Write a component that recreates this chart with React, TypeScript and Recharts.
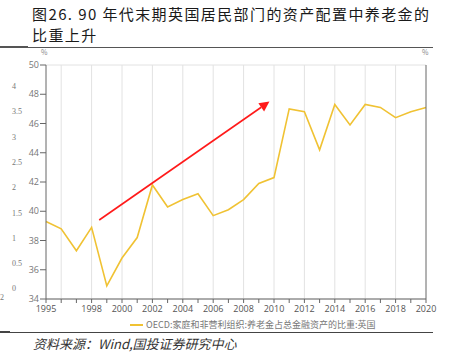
import React from "react";
import {
  LineChart,
  Line,
  XAxis,
  YAxis,
  CartesianGrid,
  ReferenceLine,
} from "recharts";

const years = [
  1995, 1996, 1997, 1998, 1999, 2000, 2001, 2002, 2003, 2004, 2005, 2006, 2007,
  2008, 2009, 2010, 2011, 2012, 2013, 2014, 2015, 2016, 2017, 2018, 2019, 2020,
];
const pensionShare = [
  39.3, 38.8, 37.3, 38.9, 34.9, 36.8, 38.2, 41.8, 40.3, 40.8, 41.2, 39.7, 40.1,
  40.8, 41.9, 42.3, 47.0, 46.8, 44.2, 47.3, 45.9, 47.3, 47.1, 46.4, 46.8, 47.1,
];
const labeledYears = [1995, 1998, 2000, 2002, 2004, 2006, 2008, 2010, 2012, 2014, 2016, 2018, 2020];
const gridYears = [1996, 1998, 2000, 2002, 2004, 2006, 2008, 2010, 2012, 2014, 2016, 2018];
const yTicks = [34, 36, 38, 40, 42, 44, 46, 48, 50];
const strayTicks = ["4", "3.5", "3", "2.5", "2", "1.5", "1", "0.5", "0"];
const arrowFrom = { x: 1998.5, y: 39.4 };
const arrowTo = { x: 2009.7, y: 47.5 };

const seriesName = "OECD:家庭和非营利组织:养老金占总金融资产的比重:英国";
const YELLOW = "#f0c233";

const data = years.map((y, i) => ({ year: y, v: pensionShare[i] }));

const tickStyle = { fontSize: 9, fill: "#777", fontFamily: "'Open Sans', sans-serif" };

function Arrow(props: any) {
  const { x1, y1, x2, y2 } = props;
  const ang = Math.atan2(y2 - y1, x2 - x1);
  const len = 10;
  const w = 5;
  const bx = x2 - len * Math.cos(ang);
  const by = y2 - len * Math.sin(ang);
  const px = -Math.sin(ang) * w;
  const py = Math.cos(ang) * w;
  return (
    <g>
      <line x1={x1} y1={y1} x2={bx} y2={by} stroke="#ff1a1a" strokeWidth={1.6} />
      <polygon
        points={`${x2},${y2} ${bx + px},${by + py} ${bx - px},${by - py}`}
        fill="#ff1a1a"
      />
    </g>
  );
}

export default function App() {
  return (
    <div
      style={{
        position: "absolute",
        left: 0,
        top: 0,
        width: 451,
        height: 357,
        background: "#fff",
        fontFamily: "'Noto Sans CJK SC', sans-serif",
        overflow: "hidden",
      }}
    >
      <div
        style={{
          position: "absolute",
          left: 32,
          top: 4,
          fontSize: 15,
          lineHeight: "20.5px",
          color: "#1a1a1a",
          fontWeight: 400,
          letterSpacing: 1.4,
        }}
      >
        图26. 90 年代末期英国居民部门的资产配置中养老金的
        <br />
        比重上升
      </div>
      <div style={{ position: "absolute", left: 0, top: 46, width: 28, height: 2, background: "#555" }} />
      <div style={{ position: "absolute", left: 28, top: 47, width: 405, height: 1, background: "#555" }} />

      <div style={{ position: "absolute", left: 41, top: 48, fontSize: 7, lineHeight: "8px", color: "#888" }}>%</div>
      <div style={{ position: "absolute", left: 422, top: 48, fontSize: 7, lineHeight: "8px", color: "#888" }}>%</div>

      {strayTicks.map((t, i) => (
        <div
          key={t}
          style={{
            position: "absolute",
            left: 12,
            top: 82 + i * 25.3,
            fontSize: 8,
            color: "#777",
            fontFamily: "'Liberation Serif', serif",
          }}
        >
          {t}
        </div>
      ))}
      <div style={{ position: "absolute", left: 0, top: 293, fontSize: 8, color: "#777", fontFamily: "'Liberation Serif', serif" }}>
        2
      </div>

      <div style={{ position: "absolute", left: 0, top: 0 }}>
        <LineChart
          width={451}
          height={319}
          data={data}
          margin={{ top: 65, right: 0, bottom: 0, left: 0 }}
        >
          <CartesianGrid vertical={false} stroke="#e2e2e2" />
          {gridYears.map((g) => (
            <ReferenceLine key={g} x={g} yAxisId="l" stroke="#e2e2e2" />
          ))}
          <XAxis
            dataKey="year"
            type="number"
            domain={[1995, 2020]}
            ticks={years}
            interval={0}
            tickFormatter={(v) => (labeledYears.includes(v) ? String(v) : "")}
            tick={{ ...tickStyle, fill: "#555" }}
            tickSize={4}
            tickMargin={3}
            height={20}
            stroke="#666"
          />
          <YAxis
            yAxisId="l"
            domain={[34, 50]}
            ticks={yTicks}
            width={46}
            tick={tickStyle}
            tickSize={6}
            tickMargin={1}
            stroke="#666"
            interval={0}
          />
          <YAxis
            yAxisId="r"
            orientation="right"
            domain={[34, 50]}
            ticks={yTicks}
            width={25}
            tick={tickStyle}
            tickSize={6}
            tickMargin={1}
            stroke="#666"
            interval={0}
          />
          <Line
            yAxisId="l"
            dataKey="v"
            stroke={YELLOW}
            strokeWidth={1.6}
            dot={false}
            isAnimationActive={false}
          />
          <ReferenceLine
            yAxisId="l"
            segment={[arrowFrom, arrowTo]}
            shape={(p: any) => <Arrow {...p} />}
          />
        </LineChart>
      </div>

      <div
        style={{
          position: "absolute",
          left: 130,
          top: 318,
          display: "flex",
          alignItems: "center",
          fontSize: 9,
          color: "#777",
        }}
      >
        <span style={{ display: "inline-block", width: 13, height: 2, background: YELLOW, marginRight: 3 }} />
        {seriesName}
      </div>

      <div style={{ position: "absolute", left: 0, top: 331, width: 10, height: 2, background: "#444" }} />
      <div style={{ position: "absolute", left: 10, top: 332, width: 423, height: 1, background: "#444" }} />
      <div
        style={{
          position: "absolute",
          left: 33,
          top: 334,
          fontSize: 13,
          color: "#333",
          fontStyle: "italic",
        }}
      >
        资料来源：Wind,国投证券研究中心
      </div>
    </div>
  );
}
